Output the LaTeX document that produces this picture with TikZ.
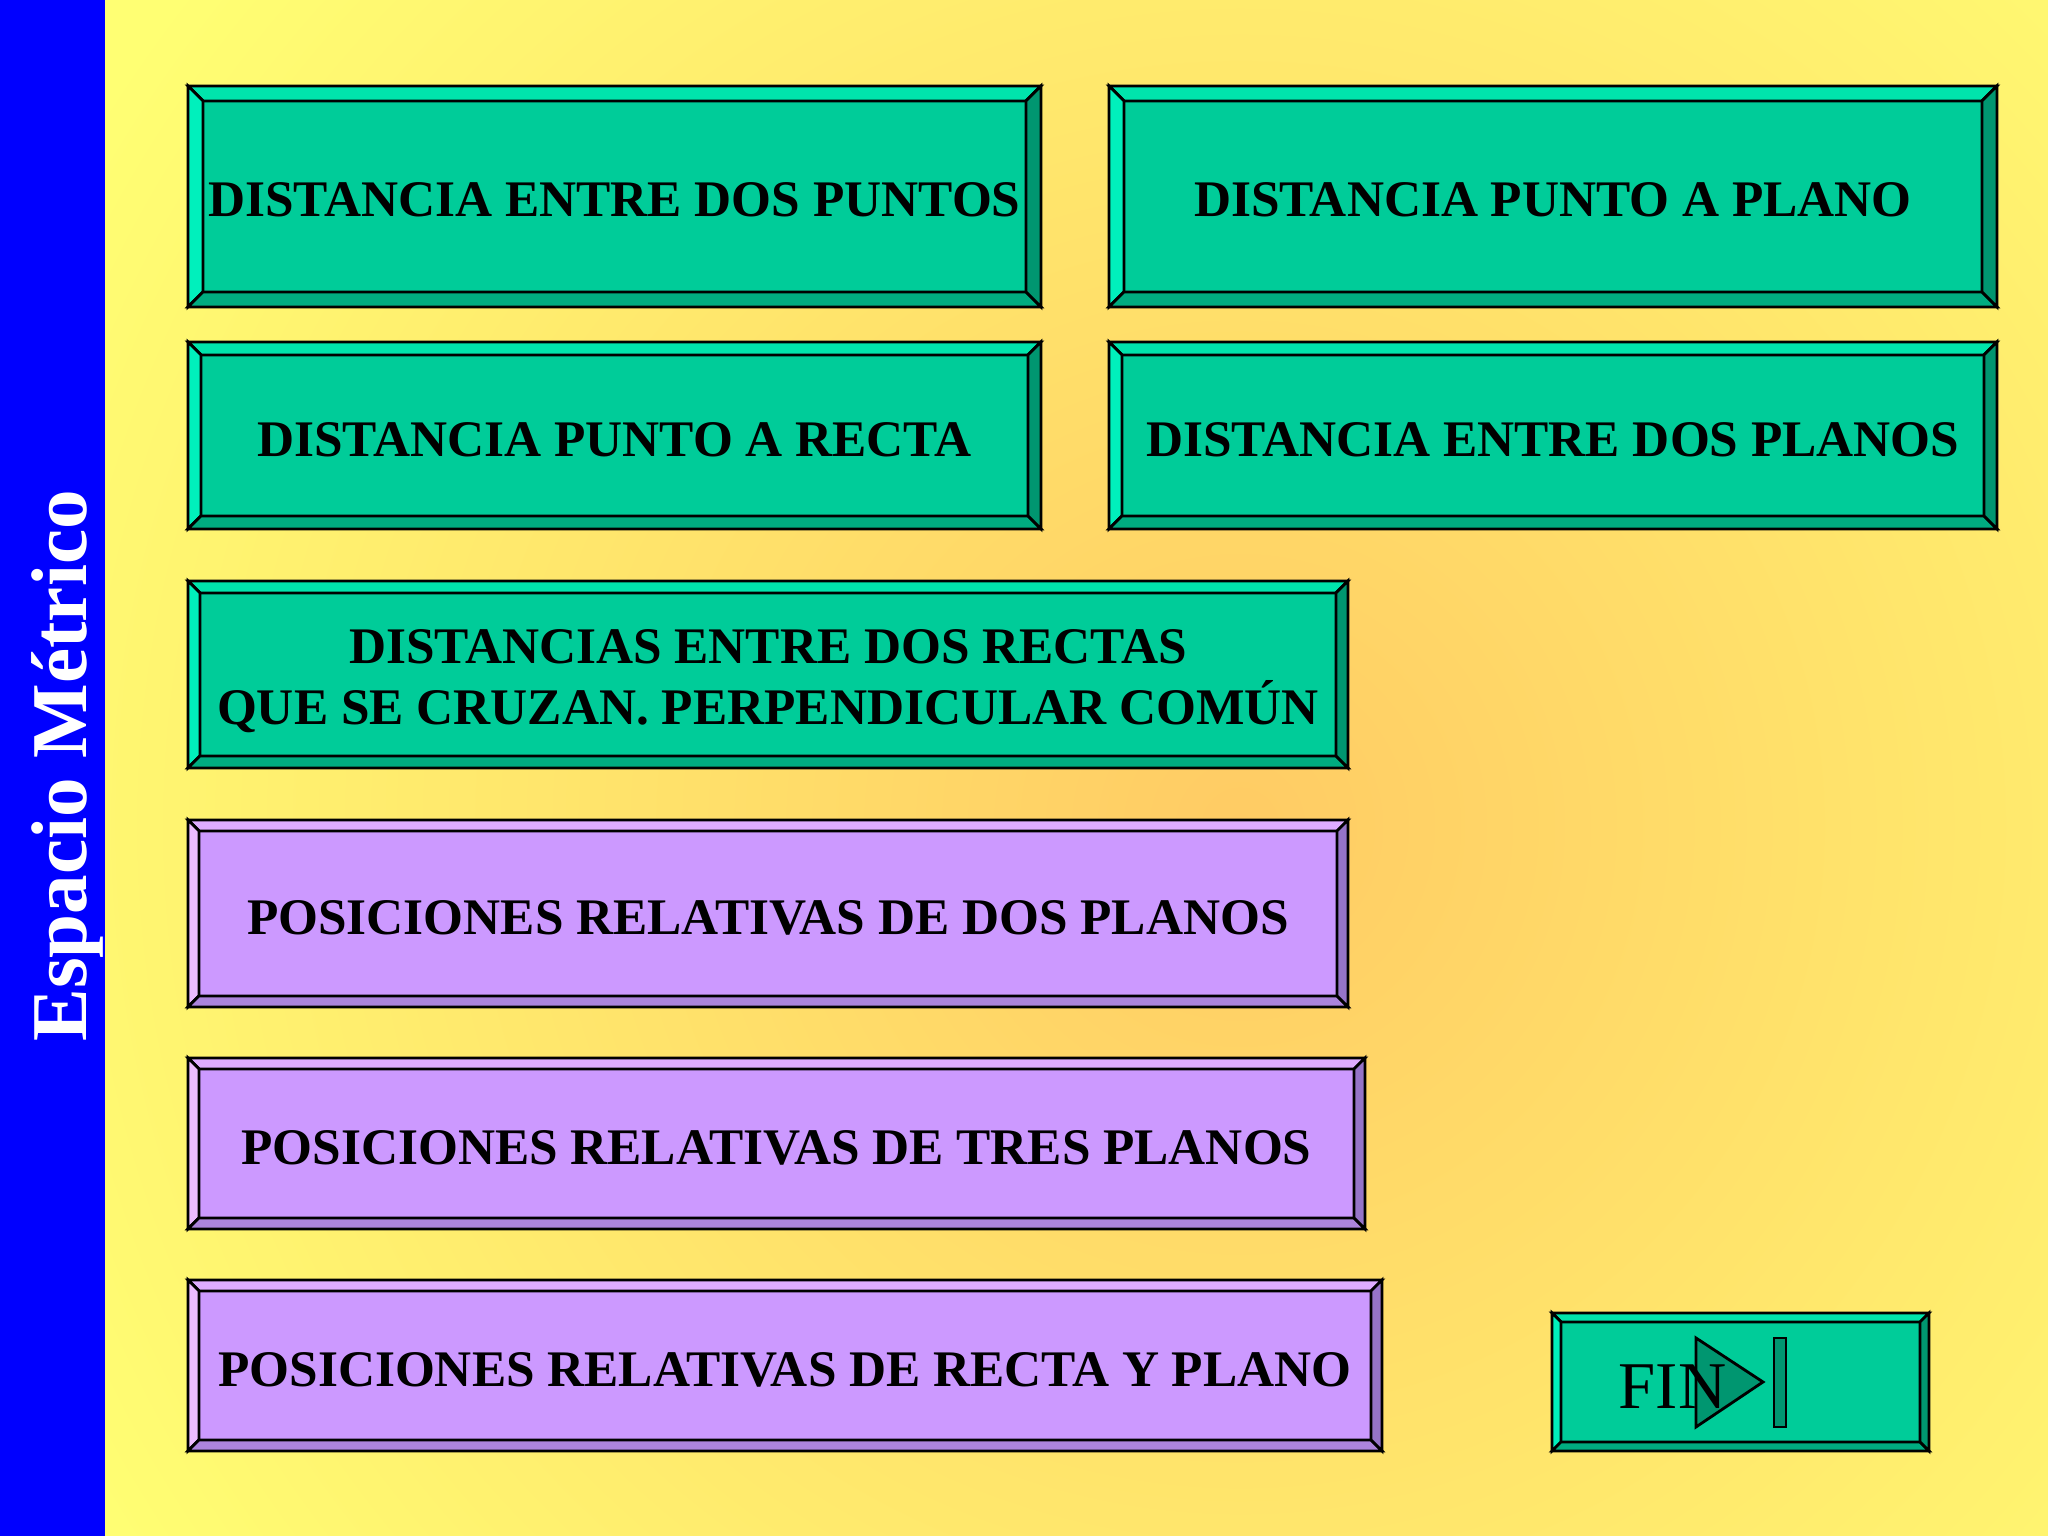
\documentclass[tikz,border=0pt]{standalone}
\usepackage{fontspec}
\setmainfont{Liberation Serif}
\usetikzlibrary{positioning}

\definecolor{bgyellow}{RGB}{255,255,115}
\definecolor{bgorange}{RGB}{255,203,100}
\definecolor{barblue}{RGB}{0,0,255}
\definecolor{gmain}{RGB}{0,204,153}
\definecolor{gtop}{RGB}{0,228,172}
\definecolor{gleft}{RGB}{0,240,188}
\definecolor{gbot}{RGB}{0,172,128}
\definecolor{gright}{RGB}{0,150,112}
\definecolor{pmain}{RGB}{204,153,255}
\definecolor{ptop}{RGB}{222,172,255}
\definecolor{pleft}{RGB}{236,188,255}
\definecolor{pbot}{RGB}{172,132,220}
\definecolor{pright}{RGB}{150,116,200}
\definecolor{findark}{RGB}{0,150,112}

% bevelled edge of a button: node, width of edge, colour prefix
\newcommand{\bevel}[3]{%
  \coordinate (#1-nw) at ([shift={(#2,-#2)}]#1.north west);
  \coordinate (#1-ne) at ([shift={(-#2,-#2)}]#1.north east);
  \coordinate (#1-sw) at ([shift={(#2,#2)}]#1.south west);
  \coordinate (#1-se) at ([shift={(-#2,#2)}]#1.south east);
  \filldraw[edge, fill=#3top] (#1.north west) -- (#1.north east) -- (#1-ne) -- (#1-nw) -- cycle;
  \filldraw[edge, fill=#3left] (#1.north west) -- (#1-nw) -- (#1-sw) -- (#1.south west) -- cycle;
  \filldraw[edge, fill=#3bot] (#1.south west) -- (#1-sw) -- (#1-se) -- (#1.south east) -- cycle;
  \filldraw[edge, fill=#3right] (#1.north east) -- (#1.south east) -- (#1-se) -- (#1-ne) -- cycle;
}

\begin{document}
\begin{tikzpicture}[
        btn/.style={rectangle, draw, line width=0.8pt, inner sep=0pt, outer sep=0pt, align=center, font=\fontsize{14.6}{17.5}\selectfont\bfseries},
        gbtn/.style={btn, fill=gmain},
        pbtn/.style={btn, fill=pmain},
        label/.style={btn, draw=none, yshift=-0.04cm},
        edge/.style={draw=black, line width=0.8pt, line join=miter}
    ]
        \useasboundingbox (0,0) rectangle (20.48,15.36);

        % background
        \fill[bgyellow] (0,0) rectangle (20.48,15.36);
        \begin{scope}
            \clip (0,0) rectangle (20.48,15.36);
            \shade[inner color=bgorange, outer color=bgyellow] (12.4,7.1) circle (13.5);
        \end{scope}
        \fill[barblue] (0,0) rectangle (1.05,15.36);
        \node[rotate=90, anchor=base, inner sep=0pt, text=white, font=\fontsize{22.5}{22.5}\selectfont\bfseries] (title) at (0.87,7.70) {Espacio Métrico};

        % buttons
        \node[gbtn, minimum width=8.53cm, minimum height=2.21cm, anchor=north west] (b1) at (1.88,14.50) {};
        \node[gbtn, minimum width=8.88cm, minimum height=2.21cm, right=0.68cm of b1.north east, anchor=north west] (b2) {};
        \node[gbtn, minimum width=8.53cm, minimum height=1.87cm, below=0.35cm of b1.south west, anchor=north west] (b3) {};
        \node[gbtn, minimum width=8.88cm, minimum height=1.87cm, below=0.35cm of b2.south west, anchor=north west] (b4) {};
        \node[gbtn, minimum width=11.60cm, minimum height=1.87cm, below=0.52cm of b3.south west, anchor=north west] (b5) {};
        \node[pbtn, minimum width=11.60cm, minimum height=1.87cm, below=0.52cm of b5.south west, anchor=north west] (b6) {};
        \node[pbtn, minimum width=11.77cm, minimum height=1.71cm, below=0.51cm of b6.south west, anchor=north west] (b7) {};
        \node[pbtn, minimum width=11.94cm, minimum height=1.71cm, below=0.51cm of b7.south west, anchor=north west] (b8) {};
        \node[gbtn, minimum width=3.77cm, minimum height=1.38cm, anchor=south west] (fin) at (15.52,0.85) {};

        \bevel{b1}{0.15}{g}
        \bevel{b2}{0.15}{g}
        \bevel{b3}{0.13}{g}
        \bevel{b4}{0.13}{g}
        \bevel{b5}{0.12}{g}
        \bevel{b6}{0.11}{p}
        \bevel{b7}{0.11}{p}
        \bevel{b8}{0.11}{p}
        \bevel{fin}{0.09}{g}

        % labels
        \node[label, yshift=0.01cm] (t1) at (b1) {DISTANCIA ENTRE DOS PUNTOS};
        \node[label, yshift=0.01cm] (t2) at (b2) {DISTANCIA PUNTO A PLANO};
        \node[label] (t3) at (b3) {DISTANCIA PUNTO A RECTA};
        \node[label] (t4) at (b4) {DISTANCIA ENTRE DOS PLANOS};
        \node[label, yshift=-0.025cm] (t5) at (b5) {DISTANCIAS ENTRE DOS RECTAS\\QUE SE CRUZAN. PERPENDICULAR COMÚN};
        \node[label] (t6) at (b6) {POSICIONES RELATIVAS DE DOS PLANOS};
        \node[label] (t7) at (b7) {POSICIONES RELATIVAS DE TRES PLANOS};
        \node[label] (t8) at (b8) {POSICIONES RELATIVAS DE RECTA Y PLANO};

        % end mark
        \filldraw[edge, fill=findark] (16.96,1.98) -- (17.63,1.54) -- (16.96,1.09) -- cycle;
        \filldraw[edge, fill=findark] (17.74,1.09) rectangle (17.86,1.98);
        \node[anchor=base west, inner sep=0pt, font=\fontsize{19}{19}\selectfont] (fintxt) at ([shift={(0.66,0.42)}]fin.south west) {FIN};
\end{tikzpicture}
\end{document}
